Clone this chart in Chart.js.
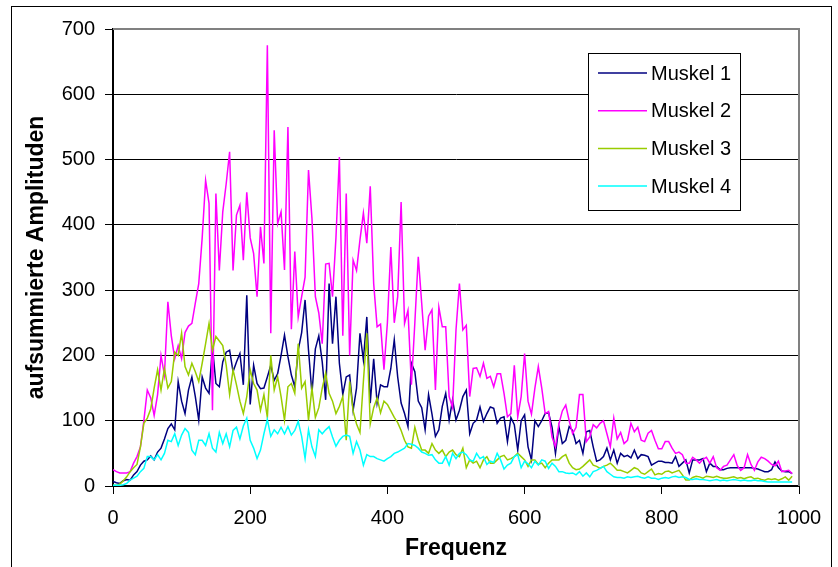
<!DOCTYPE html>
<html>
<head>
<meta charset="utf-8">
<script src="https://cdn.jsdelivr.net/npm/chart.js@4.4.0/dist/chart.umd.min.js"></script>
<style>
  html, body { margin: 0; padding: 0; background: #fff; }
  #wrap { width: 838px; height: 567px; position: relative; }
</style>
</head>
<body>
<div id="wrap"><canvas id="chart_muskel"></canvas></div>
<script>
/* Frequenzen (x) */
var freq = [
  0,5,10,15,20,25,30,35,40,45,
  50,55,60,65,70,75,80,85,90,95,
  100,105,110,115,120,125,130,135,140,145,
  150,155,160,165,170,175,180,185,190,195,
  200,205,210,215,220,225,230,235,240,245,
  250,255,260,265,270,275,280,285,290,295,
  300,305,310,315,320,325,330,335,340,345,
  350,355,360,365,370,375,380,385,390,395,
  400,405,410,415,420,425,430,435,440,445,
  450,455,460,465,470,475,480,485,490,495,
  500,505,510,515,520,525,530,535,540,545,
  550,555,560,565,570,575,580,585,590,595,
  600,605,610,615,620,625,630,635,640,645,
  650,655,660,665,670,675,680,685,690,695,
  700,705,710,715,720,725,730,735,740,745,
  750,755,760,765,770,775,780,785,790,795,
  800,805,810,815,820,825,830,835,840,845,
  850,855,860,865,870,875,880,885,890,895,
  900,905,910,915,920,925,930,935,940,945,
  950,955,960,965,970,975,980,985,990
];

var muskel1 = [
  7,5,4,8,10,9,17,22,32,38,
  40,46,40,52,58,72,88,95,86,160,
  130,111,147,167,137,101,167,150,142,213,
  157,152,190,205,208,175,190,203,155,292,
  125,185,157,149,150,167,185,162,172,200,
  231,198,170,152,208,235,285,208,142,210,
  230,190,132,310,218,290,188,140,167,170,
  116,150,234,193,259,127,195,127,155,152,
  152,180,224,167,127,111,91,188,175,130,
  120,86,140,110,76,86,122,142,101,132,
  101,116,137,147,80,96,101,121,99,111,
  121,119,96,104,106,68,105,94,55,100,
  109,60,40,100,91,100,111,112,90,50,
  91,65,70,91,85,65,70,50,83,85,
  60,38,40,45,58,40,55,35,50,45,
  47,43,55,42,48,47,45,32,35,38,
  38,36,36,35,45,30,35,40,20,40,
  40,40,42,22,35,30,30,25,25,27,
  28,28,28,28,28,28,28,27,26,24,
  22,22,25,37,28,23,22,22,19
];

var muskel2 = [
  25,22,20,20,20,22,35,45,60,100,
  147,135,108,140,200,170,282,230,195,215,
  195,235,245,249,280,310,380,468,433,116,
  448,330,420,463,512,330,415,430,346,450,
  380,356,290,397,341,675,234,545,402,420,
  331,550,240,359,259,290,320,484,410,290,
  265,218,340,341,290,380,504,230,448,200,
  346,330,377,418,372,459,310,244,248,178,
  250,366,250,290,435,249,269,155,250,351,
  280,208,260,270,147,274,244,244,137,120,
  239,310,239,246,137,180,181,168,188,165,
  168,152,172,172,142,106,111,185,106,137,
  203,130,110,150,183,150,111,114,75,60,
  95,115,124,100,80,90,140,140,68,75,
  94,89,96,100,80,60,104,72,82,65,
  70,96,83,90,70,68,81,85,70,57,
  57,68,68,58,50,52,48,35,35,44,
  40,35,41,44,35,45,28,24,30,32,
  40,48,31,24,28,48,33,24,37,44,
  42,38,33,31,38,22,23,24,19
];

var muskel3 = [
  1,1,3,8,14,22,28,33,60,96,
  104,118,150,178,147,180,150,160,205,200,
  234,183,170,188,175,160,188,218,249,208,
  229,222,215,185,140,178,155,130,111,137,
  178,157,147,116,140,105,200,147,167,137,
  101,152,157,142,218,150,160,101,150,105,
  120,150,173,142,130,111,122,137,70,160,
  115,95,82,160,234,95,120,135,112,130,
  125,115,105,97,85,70,60,58,90,70,
  55,55,50,65,55,50,55,45,52,55,
  48,45,58,28,40,35,38,28,40,45,
  35,35,40,45,47,40,42,45,50,45,
  40,30,40,40,33,35,28,35,40,40,
  40,45,48,35,28,25,26,30,35,40,
  32,30,27,30,32,35,30,24,24,22,
  20,24,28,26,20,18,22,26,17,19,
  18,22,23,20,22,24,17,9,9,13,
  15,14,12,15,14,13,15,13,12,12,
  13,14,12,13,11,13,14,11,12,10,
  9,11,10,11,9,11,14,9,15
];

var muskel4 = [
  1,1,1,2,4,9,12,15,22,27,
  45,45,40,48,40,50,70,68,80,62,
  78,88,82,55,48,70,70,62,80,58,
  52,82,65,80,60,85,90,72,92,104,
  70,58,42,55,80,102,76,86,80,90,
  80,91,78,85,99,76,42,86,60,45,
  86,80,86,91,75,61,70,76,78,76,
  50,68,55,32,48,45,45,42,40,38,
  42,45,50,52,55,58,65,64,62,58,
  52,50,47,48,40,35,35,45,32,50,
  42,50,52,48,40,38,50,42,45,33,
  38,36,50,40,26,32,35,45,48,28,
  38,34,28,38,32,40,38,27,35,30,
  22,22,20,19,20,17,22,15,20,14,
  22,24,27,30,22,18,14,13,13,12,
  14,13,14,15,13,12,14,12,12,10,
  12,13,12,14,15,13,14,13,10,10,
  11,10,10,9,8,9,10,8,9,8,
  9,10,9,8,9,8,8,9,8,8,
  7,6,6,6,6,6,6,6,6
];

var seriesNames = ["Muskel 1", "Muskel 2", "Muskel 3", "Muskel 4"];
var seriesColors = ["#000080", "#FF00FF", "#99CC00", "#00FFFF"];
var yTicks = [0, 100, 200, 300, 400, 500, 600, 700];
var xTicks = [0, 200, 400, 600, 800, 1000];

function toPoints(values){
  return values.map(function(v, i){ return {x: freq[i], y: v}; });
}

Chart.defaults.font.family = "'Liberation Sans', Arial, sans-serif";
Chart.defaults.color = "#000";

// rahmen, grauer plotrand und legende
var excelFrame = {
  id: 'excelFrame',
  beforeDraw: function(chart){
    var ctx = chart.ctx;
    ctx.save();
    ctx.fillStyle = '#fff';
    ctx.fillRect(0, 0, chart.width, chart.height);
    ctx.restore();
  },
  afterDraw: function(chart){
    var ctx = chart.ctx, a = chart.chartArea;
    ctx.save();
    ctx.strokeStyle = '#808080';
    ctx.lineWidth = 2;
    ctx.beginPath();
    ctx.moveTo(a.left, a.top);
    ctx.lineTo(a.right, a.top);
    ctx.lineTo(a.right, a.bottom);
    ctx.stroke();

    // legende
    var bx = 588, by = 53, bw = 152, bh = 157;
    ctx.fillStyle = '#fff';
    ctx.fillRect(bx, by, bw, bh);
    ctx.strokeStyle = '#000';
    ctx.lineWidth = 1;
    ctx.strokeRect(bx + 0.5, by + 0.5, bw, bh);
    ctx.font = "20px 'Liberation Sans', Arial, sans-serif";
    ctx.textBaseline = 'middle';
    ctx.textAlign = 'left';
    chart.data.datasets.forEach(function(ds, i){
      var yy = 73 + i * 37.7;
      ctx.strokeStyle = ds.borderColor;
      ctx.lineWidth = 1.5;
      ctx.beginPath();
      ctx.moveTo(598, yy);
      ctx.lineTo(647, yy);
      ctx.stroke();
      ctx.fillStyle = '#000';
      ctx.fillText(ds.label, 651, yy + 1);
    });

    // aeusserer rahmen
    ctx.strokeStyle = '#000';
    ctx.lineWidth = 1;
    ctx.strokeRect(11.5, 6.5, 820, 600);
    ctx.restore();
  }
};

var series = [muskel1, muskel2, muskel3, muskel4];
var ctx = document.getElementById('chart_muskel').getContext('2d');
var myChart = new Chart(ctx, {
  type: 'line',
  data: {
    datasets: series.map(function(values, i){
      return {
        label: seriesNames[i],
        data: toPoints(values),
        borderColor: seriesColors[i],
        backgroundColor: seriesColors[i],
        borderWidth: 1.5,
        pointRadius: 0,
        tension: 0,
        fill: false,
        order: 4 - i
      };
    })
  },
  options: {
    responsive: true,
    maintainAspectRatio: false,
    animation: false,
    layout: { padding: { top: 29, right: 39, bottom: 0, left: 0 } },
    plugins: {
      legend: { display: false },
      tooltip: { enabled: false }
    },
    scales: {
      x: {
        type: 'linear',
        min: 0,
        max: 1000,
        afterBuildTicks: function(scale){ scale.ticks = xTicks.map(function(v){ return {value: v}; }); },
        afterFit: function(scale){ scale.height = 81; },
        grid: { drawOnChartArea: false, drawTicks: true, tickLength: 8, tickColor: '#000', tickWidth: 1 },
        border: { color: '#000', width: 2 },
        ticks: { padding: 12, maxRotation: 0, font: { size: 20 }, callback: function(v){ return String(v); } },
        title: { display: true, text: 'Frequenz', font: { size: 23, weight: 'bold' }, padding: { top: 0, bottom: 5 } }
      },
      y: {
        min: 0,
        max: 700,
        afterBuildTicks: function(scale){ scale.ticks = yTicks.map(function(v){ return {value: v}; }); },
        afterFit: function(scale){ scale.width = 113; },
        grid: { color: '#000', lineWidth: 1, tickLength: 8, tickColor: '#000' },
        border: { color: '#000', width: 2 },
        ticks: { padding: 10, font: { size: 20 }, callback: function(v){ return String(v); } },
        title: { display: true, text: 'aufsummierte Amplituden', font: { size: 23, weight: 'bold' }, padding: { top: 23, bottom: 0 } }
      }
    }
  },
  plugins: [excelFrame]
});
</script>
</body>
</html>
